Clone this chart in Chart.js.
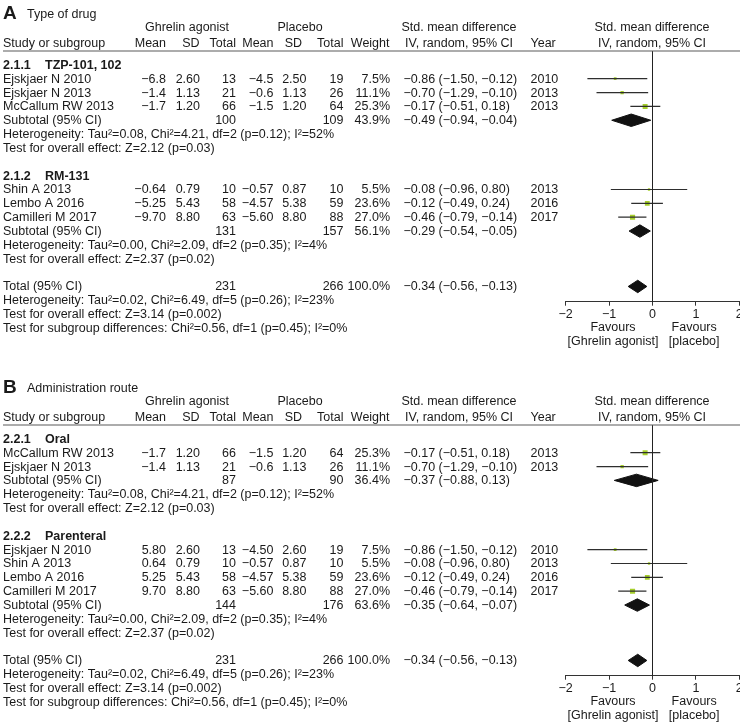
<!DOCTYPE html>
<html>
<head>
<meta charset="utf-8">
<script src="https://cdn.jsdelivr.net/npm/chart.js@4.4.1/dist/chart.umd.min.js"></script>
<style>
  html, body { margin: 0; padding: 0; background: #fff; width: 740px; height: 724px; overflow: hidden; }
  canvas { position: absolute; left: 0; }
  #panelA { top: 0; }
  #panelB { top: 374px; }
</style>
</head>
<body>
<canvas id="panelA" width="750" height="362"></canvas>
<canvas id="panelB" width="750" height="362"></canvas>
<script>
// ---- A: type of drug ----
const studiesA = ['Ejskjaer N 2010', 'Ejskjaer N 2013', 'McCallum RW 2013', 'Shin A 2013', 'Lembo A 2016', 'Camilleri M 2017'];
const subgroupOfA = [0, 0, 0, 1, 1, 1];
const ghrelinMeanA = ['−6.8', '−1.4', '−1.7', '−0.64', '−5.25', '−9.70'];
const ghrelinSdA = ['2.60', '1.13', '1.20', '0.79', '5.43', '8.80'];
const ghrelinNA = [13, 21, 66, 10, 58, 63];
const placeboMeanA = ['−4.5', '−0.6', '−1.5', '−0.57', '−4.57', '−5.60'];
const placeboSdA = ['2.50', '1.13', '1.20', '0.87', '5.38', '8.80'];
const placeboNA = [19, 26, 64, 10, 59, 88];
const weightA = [7.5, 11.1, 25.3, 5.5, 23.6, 27.0];
const smdA = [-0.86, -0.70, -0.17, -0.08, -0.12, -0.46];
const lowA = [-1.50, -1.29, -0.51, -0.96, -0.49, -0.79];
const highA = [-0.12, -0.10, 0.18, 0.80, 0.24, -0.14];
const yearA = [2010, 2013, 2013, 2013, 2016, 2017];

const subCodeA = ['2.1.1', '2.1.2'];
const subNameA = ['TZP-101, 102', 'RM-131'];
const subGhrelinNA = [100, 131];
const subPlaceboNA = [109, 157];
const subWeightA = [43.9, 56.1];
const subSmdA = [-0.49, -0.29];
const subLowA = [-0.94, -0.54];
const subHighA = [-0.04, -0.05];
const subHetA = ['Tau²=0.08, Chi²=4.21, df=2 (p=0.12); I²=52%', 'Tau²=0.00, Chi²=2.09, df=2 (p=0.35); I²=4%'];
const subEffectA = ['Z=2.12 (p=0.03)', 'Z=2.37 (p=0.02)'];

// ---- B: administration route ----
const studiesB = ['McCallum RW 2013', 'Ejskjaer N 2013', 'Ejskjaer N 2010', 'Shin A 2013', 'Lembo A 2016', 'Camilleri M 2017'];
const subgroupOfB = [0, 0, 1, 1, 1, 1];
const ghrelinMeanB = ['−1.7', '−1.4', '5.80', '0.64', '5.25', '9.70'];
const ghrelinSdB = ['1.20', '1.13', '2.60', '0.79', '5.43', '8.80'];
const ghrelinNB = [66, 21, 13, 10, 58, 63];
const placeboMeanB = ['−1.5', '−0.6', '−4.50', '−0.57', '−4.57', '−5.60'];
const placeboSdB = ['1.20', '1.13', '2.60', '0.87', '5.38', '8.80'];
const placeboNB = [64, 26, 19, 10, 59, 88];
const weightB = [25.3, 11.1, 7.5, 5.5, 23.6, 27.0];
const smdB = [-0.17, -0.70, -0.86, -0.08, -0.12, -0.46];
const lowB = [-0.51, -1.29, -1.50, -0.96, -0.49, -0.79];
const highB = [0.18, -0.10, -0.12, 0.80, 0.24, -0.14];
const yearB = [2013, 2013, 2010, 2013, 2016, 2017];

const subCodeB = ['2.2.1', '2.2.2'];
const subNameB = ['Oral', 'Parenteral'];
const subGhrelinNB = [87, 144];
const subPlaceboNB = [90, 176];
const subWeightB = [36.4, 63.6];
const subSmdB = [-0.37, -0.35];
const subLowB = [-0.88, -0.64];
const subHighB = [0.13, -0.07];
const subHetB = ['Tau²=0.08, Chi²=4.21, df=2 (p=0.12); I²=52%', 'Tau²=0.00, Chi²=2.09, df=2 (p=0.35); I²=4%'];
const subEffectB = ['Z=2.12 (p=0.03)', 'Z=2.37 (p=0.02)'];

// ---- overall (same in both panels) ----
const totalGhrelinN = 231;
const totalPlaceboN = 266;
const totalWeight = 100.0;
const totalSmd = -0.34;
const totalLow = -0.56;
const totalHigh = -0.13;
const totalHet = 'Tau²=0.02, Chi²=6.49, df=5 (p=0.26); I²=23%';
const totalEffect = 'Z=3.14 (p=0.002)';
const subgroupDiff = 'Chi²=0.56, df=1 (p=0.45); I²=0%';

const xTicks = [-2, -1, 0, 1, 2];

const FONT = '"Liberation Sans", Arial, Helvetica, sans-serif';
const FS = 12.5;
const INK = '#1a1a1a';
const AXIS_ROW = 18.1;

function fmt(v) {
    return (v < 0 ? '−' : '') + Math.abs(v).toFixed(2);
}
function ciText(s, l, h) {
    return `${fmt(s)} (${fmt(l)}, ${fmt(h)})`;
}

// rows: 1 = first line under header rule
function buildRows(subgroupOf, nGroups) {
    const rows = { group: [], study: [], sub: [], het: [], test: [] };
    let r = 1;
    for (let g = 0; g < nGroups; g++) {
        rows.group.push(r++);
        subgroupOf.forEach((sg, i) => { if (sg === g) rows.study[i] = r++; });
        rows.sub.push(r++);
        rows.het.push(r++);
        rows.test.push(r++);
        r++;
    }
    rows.total = r;
    return rows;
}

function makePanel(id, letter, title, d) {
    const rows = buildRows(d.subgroupOf, d.subCode.length);

    const datasets = [];
    // vertical line of no effect
    datasets.push({
        type: 'line', data: [{ x: 0, y: 0 }, { x: 0, y: AXIS_ROW }],
        borderColor: '#222', borderWidth: 1, pointRadius: 0
    });
    // confidence intervals
    d.studies.forEach((s, i) => {
        datasets.push({
            type: 'line', data: [{ x: d.low[i], y: rows.study[i] }, { x: d.high[i], y: rows.study[i] }],
            borderColor: '#2e2e2e', borderWidth: 1.2, pointRadius: 0
        });
    });
    // study squares
    datasets.push({
        type: 'scatter',
        data: d.studies.map((s, i) => ({ x: d.smd[i], y: rows.study[i] })),
        pointStyle: 'rect',
        pointRadius: ctx => 0.7 * Math.sqrt(d.weight[ctx.dataIndex]),
        backgroundColor: '#a6cf2b', borderWidth: 0
    });
    // diamonds
    const diamonds = d.subSmd.map((s, g) => [s, d.subLow[g], d.subHigh[g], rows.sub[g]]);
    diamonds.push([totalSmd, totalLow, totalHigh, rows.total]);
    diamonds.forEach(([s, l, h, r]) => {
        datasets.push({
            type: 'line',
            data: [{ x: l, y: r }, { x: s, y: r - 0.45 }, { x: h, y: r }, { x: s, y: r + 0.45 }, { x: l, y: r }],
            borderColor: '#111', backgroundColor: '#111', borderWidth: 1,
            fill: 'shape', pointRadius: 0, tension: 0
        });
    });

    const tablePlugin = {
        id: 'table',
        afterDraw(chart) {
            const ctx = chart.ctx;
            const ys = chart.scales.y;
            const xs = chart.scales.x;
            const yp = r => ys.getPixelForValue(r) + 0.5;
            const normal = `${FS}px ${FONT}`;
            const bold = `bold ${FS}px ${FONT}`;
            ctx.save();
            ctx.fillStyle = INK;
            ctx.textBaseline = 'middle';
            const put = (s, x, y, align, font) => {
                ctx.font = font || normal;
                ctx.textAlign = align || 'left';
                ctx.fillText(String(s), x, y);
            };

            // title
            put(letter, 3, yp(-2.75), 'left', `bold 19px ${FONT}`);
            put(title, 27, yp(-2.68));

            // header
            const h1 = yp(-1.71), h2 = yp(-0.6);
            put('Ghrelin agonist', 187, h1, 'center');
            put('Placebo', 300, h1, 'center');
            put('Std. mean difference', 459, h1, 'center');
            put('Std. mean difference', 652, h1, 'center');
            put('Study or subgroup', 3, h2);
            put('Mean', 166, h2, 'right');
            put('SD', 199.5, h2, 'right');
            put('Total', 236, h2, 'right');
            put('Mean', 273.5, h2, 'right');
            put('SD', 302, h2, 'right');
            put('Total', 343.5, h2, 'right');
            put('Weight', 389.5, h2, 'right');
            put('IV, random, 95% CI', 459, h2, 'center');
            put('Year', 530.5, h2);
            put('IV, random, 95% CI', 652, h2, 'center');

            ctx.strokeStyle = '#5a5a5a';
            ctx.lineWidth = 1.2;
            ctx.beginPath();
            ctx.moveTo(3, ys.getPixelForValue(0));
            ctx.lineTo(740, ys.getPixelForValue(0));
            ctx.stroke();

            // groups
            d.subCode.forEach((code, g) => {
                const gy = yp(rows.group[g]);
                put(code, 3, gy, 'left', bold);
                put(d.subName[g], 45, gy, 'left', bold);
                d.studies.forEach((s, i) => {
                    if (d.subgroupOf[i] !== g) return;
                    const y = yp(rows.study[i]);
                    put(s, 3, y);
                    put(d.gMean[i], 166, y, 'right');
                    put(d.gSd[i], 200, y, 'right');
                    put(d.gN[i], 236, y, 'right');
                    put(d.pMean[i], 273.5, y, 'right');
                    put(d.pSd[i], 306.5, y, 'right');
                    put(d.pN[i], 343.5, y, 'right');
                    put(d.weight[i].toFixed(1) + '%', 390, y, 'right');
                    put(ciText(d.smd[i], d.low[i], d.high[i]), 403.5, y);
                    put(d.year[i], 530.5, y);
                });
                const sy = yp(rows.sub[g]);
                put('Subtotal (95% CI)', 3, sy);
                put(d.subGN[g], 236, sy, 'right');
                put(d.subPN[g], 343.5, sy, 'right');
                put(d.subWeight[g].toFixed(1) + '%', 390, sy, 'right');
                put(ciText(d.subSmd[g], d.subLow[g], d.subHigh[g]), 403.5, sy);
                put('Heterogeneity: ' + d.subHet[g], 3, yp(rows.het[g]));
                put('Test for overall effect: ' + d.subEffect[g], 3, yp(rows.test[g]));
            });

            const ty = yp(rows.total);
            put('Total (95% CI)', 3, ty);
            put(totalGhrelinN, 236, ty, 'right');
            put(totalPlaceboN, 343.5, ty, 'right');
            put(totalWeight.toFixed(1) + '%', 390, ty, 'right');
            put(ciText(totalSmd, totalLow, totalHigh), 403.5, ty);
            put('Heterogeneity: ' + totalHet, 3, yp(rows.total + 1));
            put('Test for overall effect: ' + totalEffect, 3, yp(rows.total + 2));
            put('Test for subgroup differences: ' + subgroupDiff, 3, yp(rows.total + 3));

            // favours labels under the axis
            const fb = chart.chartArea.bottom;
            put('Favours', xs.getPixelForValue(-0.91), fb + 26, 'center');
            put('[Ghrelin agonist]', xs.getPixelForValue(-0.91), fb + 40, 'center');
            put('Favours', xs.getPixelForValue(0.96), fb + 26, 'center');
            put('[placebo]', xs.getPixelForValue(0.96), fb + 40, 'center');
            ctx.restore();
        }
    };

    return new Chart(document.getElementById(id), {
        type: 'scatter',
        data: { datasets },
        options: {
            responsive: false,
            animation: false,
            devicePixelRatio: 1,
            events: [],
            layout: { padding: { left: 565.7, right: 10.7, top: 51, bottom: 38.3 } },
            plugins: { legend: { display: false }, tooltip: { enabled: false } },
            scales: {
                x: {
                    type: 'linear', min: -2, max: 2,
                    afterBuildTicks: scale => { scale.ticks = xTicks.map(v => ({ value: v })); },
                    afterFit: scale => { scale.height = 22; },
                    ticks: {
                        color: INK, padding: 1, maxRotation: 0,
                        font: { family: FONT, size: FS },
                        callback: v => (v < 0 ? '−' + Math.abs(v) : String(v))
                    },
                    grid: { drawOnChartArea: false, drawTicks: true, tickLength: 4, color: '#333' },
                    border: { display: true, color: '#333', width: 1 }
                },
                y: { type: 'linear', min: 0, max: AXIS_ROW, reverse: true, display: false }
            }
        },
        plugins: [tablePlugin]
    });
}

makePanel('panelA', 'A', 'Type of drug', {
    studies: studiesA, subgroupOf: subgroupOfA,
    gMean: ghrelinMeanA, gSd: ghrelinSdA, gN: ghrelinNA,
    pMean: placeboMeanA, pSd: placeboSdA, pN: placeboNA,
    weight: weightA, smd: smdA, low: lowA, high: highA, year: yearA,
    subCode: subCodeA, subName: subNameA, subGN: subGhrelinNA, subPN: subPlaceboNA,
    subWeight: subWeightA, subSmd: subSmdA, subLow: subLowA, subHigh: subHighA,
    subHet: subHetA, subEffect: subEffectA
});

makePanel('panelB', 'B', 'Administration route', {
    studies: studiesB, subgroupOf: subgroupOfB,
    gMean: ghrelinMeanB, gSd: ghrelinSdB, gN: ghrelinNB,
    pMean: placeboMeanB, pSd: placeboSdB, pN: placeboNB,
    weight: weightB, smd: smdB, low: lowB, high: highB, year: yearB,
    subCode: subCodeB, subName: subNameB, subGN: subGhrelinNB, subPN: subPlaceboNB,
    subWeight: subWeightB, subSmd: subSmdB, subLow: subLowB, subHigh: subHighB,
    subHet: subHetB, subEffect: subEffectB
});
</script>
</body>
</html>
